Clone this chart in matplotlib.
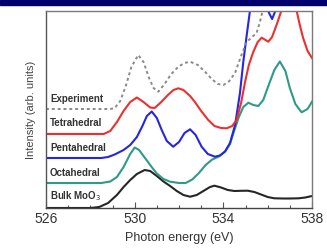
import matplotlib
matplotlib.use("Agg")
import matplotlib.pyplot as plt
from matplotlib.patches import Rectangle
from matplotlib.ticker import MultipleLocator

# ---- data (photon energy in eV, intensity in arbitrary units) ----
bulk_x = [526, 528.0, 528.4, 528.8, 529.2, 529.5, 529.8, 530.1, 530.45, 530.7, 531.0, 531.3, 531.6,
          531.9, 532.2, 532.5, 532.8, 533.1, 533.4, 533.6, 533.9, 534.2, 534.5, 534.8, 535.1, 535.4,
          535.7, 536.0, 536.3, 536.7, 537.0, 537.4, 537.7, 538]
bulk_y = [0, 0, 1, 5, 13, 21, 28, 34, 38, 37, 32, 26.5, 22,
          17, 13, 11.3, 13, 17, 21, 22.3, 20.5, 18, 17, 17.2, 17.3, 16,
          13.5, 11, 9.7, 9.5, 9.5, 9.7, 10.5, 12]

octa_x = [526, 528.5, 528.9, 529.2, 529.5, 529.8, 530.0, 530.2, 530.5, 530.8, 531.0, 531.3, 531.6,
          532.0, 532.3, 532.6, 532.9, 533.2, 533.5, 533.8, 534.1, 534.3, 534.5, 534.7, 534.9, 535.13,
          535.35, 535.58, 535.8, 536.03, 536.3, 536.55, 536.8, 537.0, 537.25, 537.53, 537.8, 538]
octa_y = [25, 25, 26.5, 31, 41, 54, 60.5, 58, 49, 40, 34.5, 29, 26.3,
          25, 25, 28.5, 35, 43, 48.5, 51.5, 57, 64, 78, 91, 101, 105.3,
          103, 102, 108, 122, 138, 146.5, 137, 120, 104, 95.7, 99, 106.3]

penta_x = [526, 528.5, 528.8, 529.1, 529.5, 529.8, 530.1, 530.35, 530.55, 530.77, 531.0, 531.22, 531.45,
           531.74, 532.0, 532.25, 532.5, 532.75, 533.02, 533.3, 533.62, 533.85, 534.07, 534.3, 534.53,
           534.75, 534.9, 535.05, 535.2, 535.4, 535.7, 535.95, 536.2, 536.4, 536.7, 537.2, 537.7, 538]
penta_y = [50, 50, 51, 53.5, 58, 63, 71, 82, 92, 96.5, 90, 78, 67,
           61.3, 66, 75, 78.7, 73, 61.3, 54, 51.3, 52.5, 56.3, 65, 83,
           115, 146, 172, 197, 225, 235, 200, 189, 200, 240, 250, 230, 197]

tetra_x = [526, 528.6, 528.9, 529.2, 529.5, 529.8, 530.1, 530.4, 530.7, 530.9, 531.2, 531.5, 531.75,
           531.97, 532.2, 532.5, 532.72, 533.0, 533.32, 533.6, 533.9, 534.15, 534.4, 534.6, 534.8,
           534.98, 535.15, 535.35, 535.55, 535.73, 535.9, 536.03, 536.2, 536.4, 536.63, 536.9, 537.1,
           537.31, 537.45, 537.6, 537.8, 538]
tetra_y = [74, 74, 77, 86, 97, 106, 110.5, 106, 100.5, 100, 106, 113, 118,
           119.7, 118, 112, 106, 97, 88, 82, 80, 79.7, 82, 88, 105,
           126, 143, 156, 166, 170.3, 168, 166.3, 171, 183, 198, 215, 212,
           197, 183, 170, 157, 150]

expt_x = [526, 528.9, 529.1, 529.35, 529.6, 529.85, 530.16, 530.4, 530.65, 530.85, 531.07, 531.35,
          531.65, 531.97, 532.25, 532.5, 532.85, 533.17, 533.5, 533.75, 534.0, 534.25, 534.53, 534.8,
          535.05, 535.3, 535.5, 535.65, 535.8, 536.0]
expt_y = [99, 99, 100, 107, 122, 141, 153, 146, 130, 120, 116.3, 124,
          134, 141.3, 145, 146.3, 143, 136.3, 128.5, 124, 123, 126.5, 135, 152,
          166, 171, 175, 186, 200, 215]

labels = ["Experiment", "Tetrahedral", "Pentahedral", "Octahedral", "Bulk MoO$_3$"]
label_y = [109.5, 85, 60, 35, 11.5]
xticks = [526, 530, 534, 538]

# ---- figure ----
plt.rcParams['font.family'] = ['Liberation Sans', 'DejaVu Sans']
fig = plt.figure(figsize=(3.27, 2.48), dpi=100)
fig.patches.append(Rectangle((0, 1 - 5 / 248), 1, 5 / 248, transform=fig.transFigure,
                             color='#00006a', zorder=10))
ax = fig.add_axes([46 / 327, 40 / 248, 266 / 327, 197 / 248])

ax.plot(bulk_x, bulk_y, color='#262626', lw=1.5)
ax.plot(octa_x, octa_y, color='#2e9a88', lw=1.5)
ax.plot(penta_x, penta_y, color='#2626e0', lw=1.5)
ax.plot(tetra_x, tetra_y, color='#ec3030', lw=1.5)
ax.plot(expt_x, expt_y, color='#8a8a8a', lw=1.4, ls=(0, (1.5, 1.5)))

for t, y in zip(labels, label_y):
    ax.text(526.18, y, t, fontsize=7, fontweight='bold', color='#333333',
            ha='left', va='center')

ax.set_xlim(526, 538)
ax.set_ylim(0, 197)
ax.set_xticks(xticks)
ax.xaxis.set_minor_locator(MultipleLocator(1))
ax.set_yticks([])
ax.tick_params(axis='x', which='major', direction='in', length=4, width=0.8,
               color='#555555', labelsize=10, labelcolor='#333333', pad=3)
ax.tick_params(axis='x', which='minor', direction='in', length=2.5, width=0.8, color='#555555')
for s in ax.spines.values():
    s.set_color('#7a7a7a')
    s.set_linewidth(1.0)
ax.spines['bottom'].set_color('#444444')
ax.spines['left'].set_color('#555555')

ax.set_xlabel('Photon energy (eV)', fontsize=9, color='#333333', labelpad=4)
ax.set_ylabel('Intensity (arb. units)', fontsize=8, color='#444444', labelpad=7)

fig.savefig('out.png', dpi=100)
